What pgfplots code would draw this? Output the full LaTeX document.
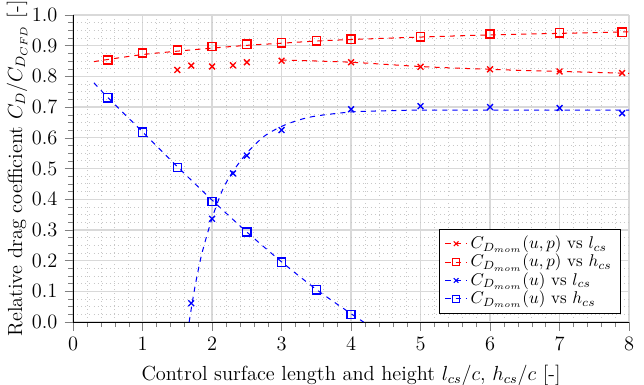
\documentclass[12pt,border=0pt]{standalone}
\usepackage{pgfplots}
\pgfplotsset{compat=1.18}
\begin{document}
\begin{tikzpicture}
\begin{axis}[
  scale only axis, width=327pt, height=180.6pt,
  xmin=0, xmax=8, ymin=0, ymax=1,
  axis x line*=bottom, axis y line*=left,
  tick align=outside, major tick length=5pt, minor tick length=3pt,
  xtick={0,1,...,8}, ytick={0,0.1,...,1.0},
  minor x tick num=4, minor y tick num=3,
  grid=both,
  major grid style={black!15, line width=0.8pt},
  minor grid style={black!22, dotted},
  y tick label style={/pgf/number format/.cd, fixed, fixed zerofill, precision=1},
  xlabel={Control surface length and height $l_{cs}/c$, $h_{cs}/c$ [-]},
  ylabel={Relative drag coefficient $C_D/C_{D_{CFD}}$ [-]},
  ylabel shift=-5.5pt,
  legend style={at={(0.985,0.026)}, anchor=south east, cells={anchor=west}, draw=black, font=\footnotesize, line width=0.6pt, row sep=-2.5pt},
  legend image code/.code={\draw[mark repeat=2,mark phase=2] plot coordinates {(0cm,0cm) (0.22cm,0cm) (0.44cm,0cm)};},
  mark size=2.4pt,
]
\addlegendimage{red, dashed, mark=x, mark options={solid, semithick, scale=0.8}}
\addlegendentry{$C_{D_{mom}}(u,p)$ vs $l_{cs}$}
\addlegendimage{red, dashed, mark=square, mark options={solid, semithick, scale=0.8}}
\addlegendentry{$C_{D_{mom}}(u,p)$ vs $h_{cs}$}
\addlegendimage{blue, dashed, mark=x, mark options={solid, semithick, scale=0.8}}
\addlegendentry{$C_{D_{mom}}(u)$ vs $l_{cs}$}
\addlegendimage{blue, dashed, mark=square, mark options={solid, semithick, scale=0.8}}
\addlegendentry{$C_{D_{mom}}(u)$ vs $h_{cs}$}

% fitted curves
\addplot[red, dashed, semithick, smooth, forget plot] coordinates {
(3,0.853) (3.5,0.850) (4,0.846) (4.5,0.839) (5,0.832) (5.5,0.827) (6,0.823) (6.5,0.819) (7,0.816) (7.5,0.813) (8,0.810)};
\addplot[red, dashed, semithick, smooth, forget plot] coordinates {
(0.3,0.848) (0.5,0.855) (1,0.871) (1.5,0.882) (2,0.892) (2.5,0.901) (3,0.908) (3.5,0.915) (4,0.920) (5,0.928) (6,0.935) (7,0.940) (8,0.945)};
\addplot[blue, dashed, semithick, smooth, forget plot] coordinates {
(1.67,0) (1.75,0.11) (1.85,0.22) (2.0,0.338) (2.15,0.43) (2.3,0.49) (2.5,0.55) (2.75,0.605) (3.0,0.637) (3.25,0.658) (3.5,0.671) (4,0.684) (4.5,0.688) (5,0.690) (6,0.690) (7,0.690) (8,0.690)};
\addplot[blue, dashed, semithick, smooth, forget plot] coordinates {
(0.3,0.779) (0.5,0.731) (1,0.619) (1.5,0.506) (2,0.397) (2.5,0.293) (3,0.196) (3.5,0.106) (4,0.027) (4.18,0)};

% data points
\addplot[red, only marks, mark=x, thick, forget plot] coordinates {
(1.5,0.821) (1.7,0.835) (2.0,0.832) (2.3,0.836) (2.5,0.846) (3.0,0.851) (4,0.846) (5,0.831) (6,0.823) (7,0.816) (7.9,0.811)};
\addplot[red, only marks, mark=square, thick, forget plot] coordinates {
(0.5,0.853) (1,0.876) (1.5,0.886) (2,0.897) (2.5,0.905) (3,0.909) (3.5,0.916) (4,0.921) (5,0.929) (6,0.938) (7,0.942) (7.9,0.944)};
\addplot[blue, only marks, mark=x, thick, forget plot] coordinates {
(1.7,0.061) (2.0,0.336) (2.3,0.484) (2.5,0.542) (3,0.625) (4,0.693) (5,0.703) (6,0.700) (7,0.697) (7.9,0.680)};
\addplot[blue, only marks, mark=square, thick, forget plot] coordinates {
(0.5,0.730) (1,0.618) (1.5,0.503) (2,0.393) (2.5,0.293) (3,0.195) (3.5,0.105) (4,0.025)};
\end{axis}
\pgfresetboundingbox
\path ([xshift=-43pt,yshift=-37pt]current axis.south west) rectangle ([xshift=8.8pt,yshift=8.8pt]current axis.north east);
\end{tikzpicture}
\end{document}
